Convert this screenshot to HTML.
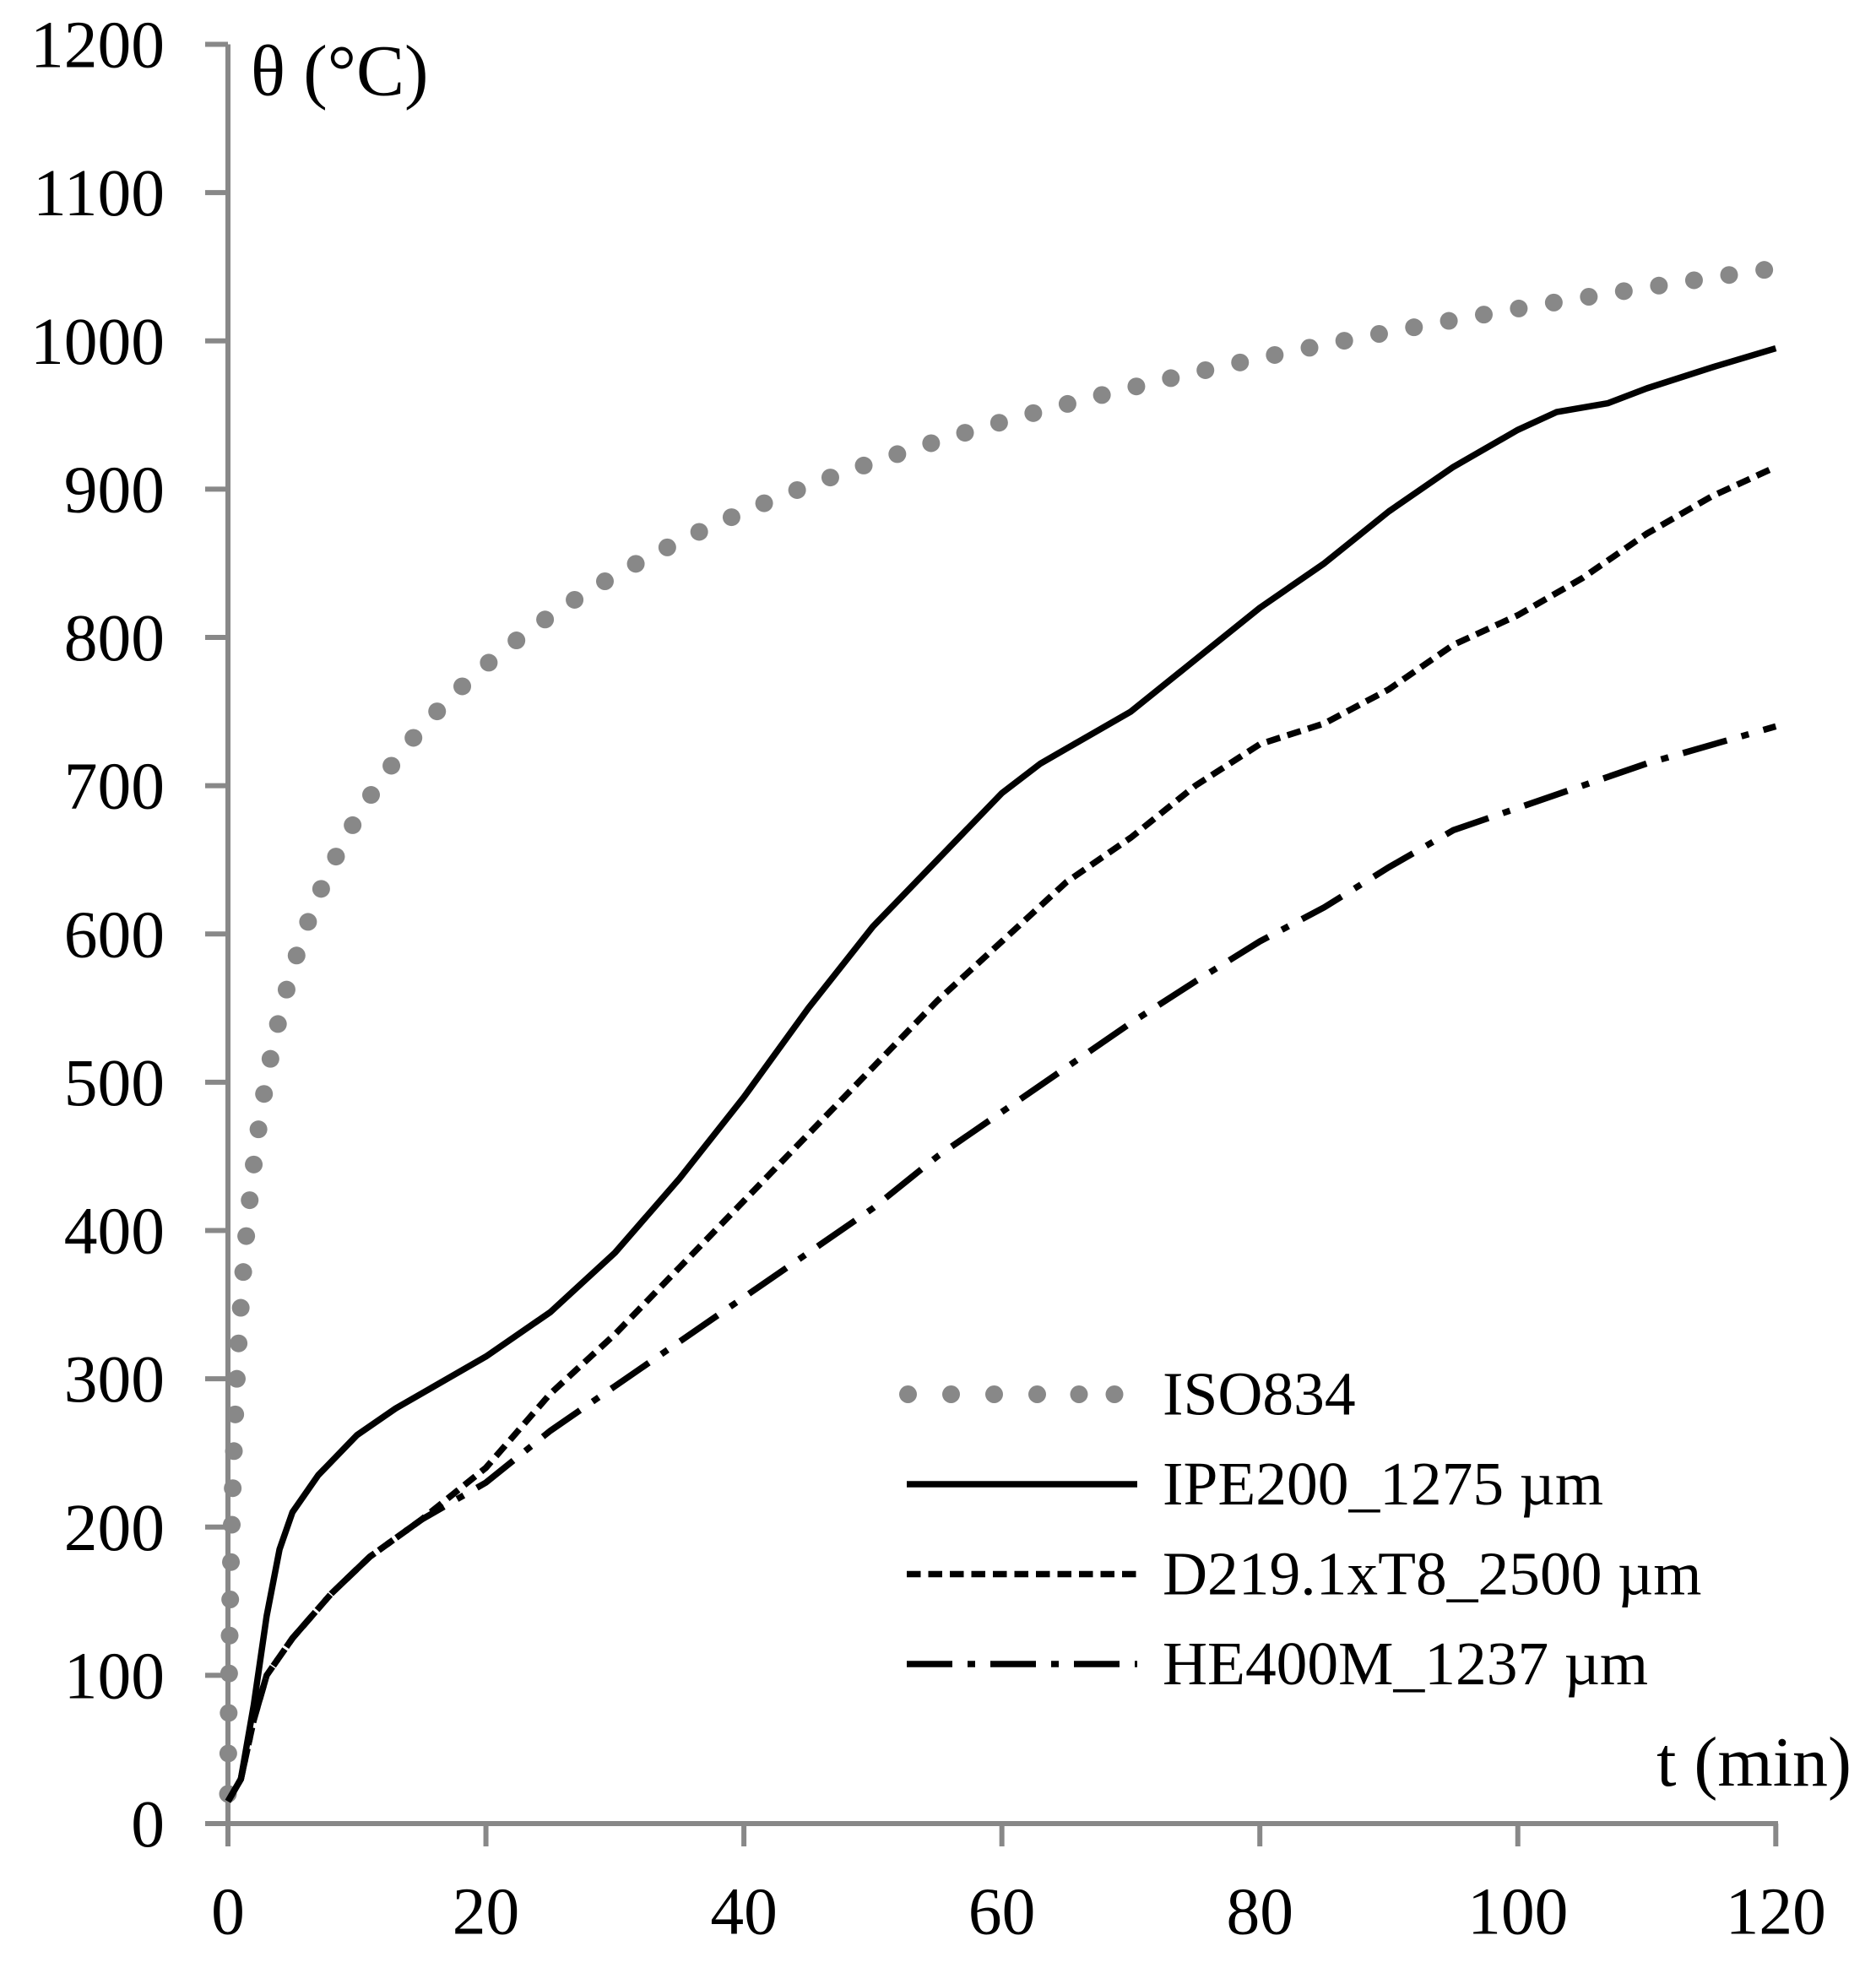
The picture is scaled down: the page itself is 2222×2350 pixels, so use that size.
<!DOCTYPE html>
<html><head><meta charset="utf-8"><style>
html,body{margin:0;padding:0;background:#fff}
svg{display:block}
text{font-family:"Liberation Serif",serif;fill:#000}
</style></head><body>
<svg id="s" width="2222" height="2350" viewBox="0 0 1481.33 1566.67" xmlns="http://www.w3.org/2000/svg">
<g stroke="#888" stroke-width="4" fill="none">
<line x1="180" y1="35" x2="180" y2="1442"/>
<line x1="178" y1="1440" x2="1404" y2="1440"/>
<g id="yt"></g><g id="xt"></g>
</g>
<g id="lab" font-size="53"></g>
<text x="198" y="75" font-size="57">θ (°C)</text>
<text x="1462" y="1410" font-size="56" text-anchor="end">t (min)</text>
<g id="iso" fill="#888"></g>
<polyline id="p1" fill="none" stroke="#000" stroke-width="5" stroke-linejoin="round"/>
<polyline id="p2" fill="none" stroke="#000" stroke-width="5" stroke-dasharray="11,6"/>
<polyline id="p3" fill="none" stroke="#000" stroke-width="5" stroke-dasharray="36,12,6,12"/>
<g fill="#888"><circle cx="717" cy="1101" r="7"/><circle cx="751" cy="1101" r="7"/><circle cx="785" cy="1101" r="7"/><circle cx="819" cy="1101" r="7"/><circle cx="852" cy="1101" r="7"/><circle cx="880" cy="1101" r="7"/></g>
<line x1="716" y1="1172" x2="898" y2="1172" stroke="#000" stroke-width="5"/>
<line x1="716" y1="1243" x2="898" y2="1243" stroke="#000" stroke-width="5" stroke-dasharray="11,6"/>
<line x1="716" y1="1314" x2="898" y2="1314" stroke="#000" stroke-width="5" stroke-dasharray="36,12,6,12"/>
<g font-size="49">
<text x="918" y="1117">ISO834</text>
<text x="918" y="1188">IPE200_1275 µm</text>
<text x="918" y="1259">D219.1xT8_2500 µm</text>
<text x="918" y="1330">HE400M_1237 µm</text>
</g>
</svg>
<script>
var NS="http://www.w3.org/2000/svg";
function X(t){return 180+t*10.185}
function Y(v){return 1440-v*1.1708}
function el(tag,a,p){var e=document.createElementNS(NS,tag);for(var k in a)e.setAttribute(k,a[k]);document.getElementById(p).appendChild(e);return e}
for(var v=0;v<=1200;v+=100){var y=Y(v);el("line",{x1:162,y1:y,x2:180,y2:y},"yt");var t=el("text",{x:130,y:y+18,"text-anchor":"end"},"lab");t.textContent=v;}
for(var m=0;m<=120;m+=20){var x=X(m);el("line",{x1:x,y1:1440,x2:x,y2:1458},"xt");var t=el("text",{x:x,y:1527,"text-anchor":"middle"},"lab");t.textContent=m;}
var prev=null,acc=0,sp=28;
for(var t=0;t<=120;t+=0.005){var px=X(t),py=Y(20+345*Math.log10(8*t+1));
 if(prev){acc+=Math.hypot(px-prev[0],py-prev[1]);}
 if(!prev||acc>=sp){el("circle",{cx:px,cy:py,r:7},"iso");acc=0;}
 prev=[px,py];}
function line(id,d){document.getElementById(id).setAttribute("points",d.map(function(p){return X(p[0])+","+Y(p[1])}).join(" "))}
line("p1",[[0,15],[1,30],[2,80],[3,140],[4,185],[5,210],[7,235],[10,262],[13,280],[17,300],[20,315],[25,345],[30,385],[35,435],[40,490],[45,550],[50,605],[55,650],[60,695],[63,715],[66,730],[70,750],[75,785],[80,820],[85,850],[90,885],[95,915],[100,940],[103,952],[107,958],[110,968],[115,982],[120,995]]);
line("p2",[[0,15],[1,30],[2,70],[3,100],[5,125],[8,155],[11,180],[15,205],[20,240],[25,290],[30,330],[35,375],[40,420],[45,465],[50,510],[55,555],[60,595],[65,635],[70,665],[75,700],[80,728],[85,742],[90,765],[95,795],[100,815],[105,840],[110,870],[115,895],[120,915]]);
line("p3",[[0,15],[1,30],[2,70],[3,100],[5,125],[8,155],[11,180],[15,205],[20,230],[25,265],[30,295],[35,325],[40,355],[45,385],[50,415],[55,450],[60,480],[65,510],[70,540],[75,568],[80,595],[85,618],[90,645],[95,670],[100,685],[105,700],[110,715],[120,740]]);
</script>
</body></html>
